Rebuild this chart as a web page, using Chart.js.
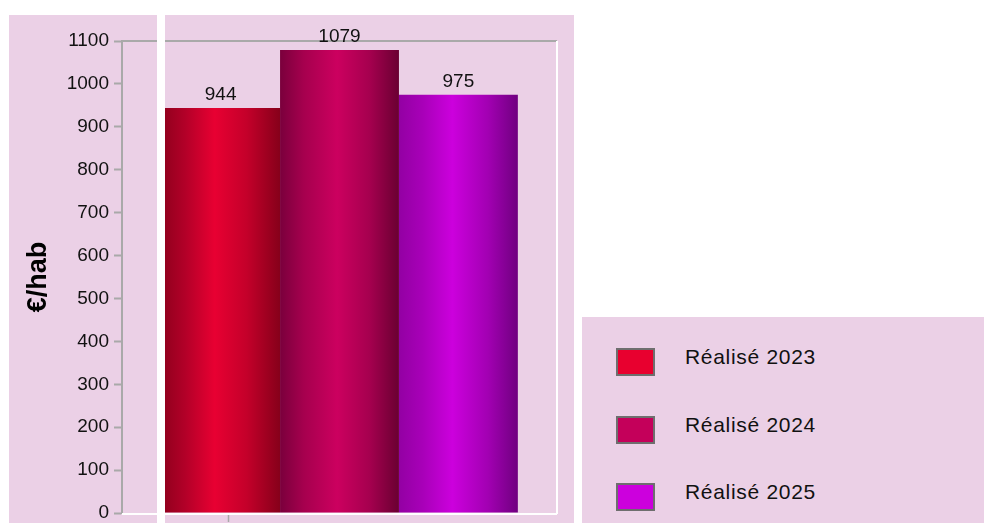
<!DOCTYPE html>
<html><head><meta charset="utf-8">
<script src="https://cdn.jsdelivr.net/npm/chart.js@4"></script>
<style>
html,body{margin:0;padding:0;background:#fff;width:984px;height:523px;overflow:hidden;font-family:"Liberation Sans",Arial,sans-serif}
.panel{position:absolute;background:#EBD0E6}
#p1{left:9px;top:15px;width:148px;height:508px}
#p2{left:165px;top:15px;width:409px;height:508px}
#gap{position:absolute;left:157px;top:0;width:8px;height:523px;background:#fff;z-index:3}
#wrap{position:absolute;left:0;top:0;width:984px;height:523px;z-index:2}
#legend{left:582px;top:317px;width:402px;height:206px;z-index:4}
.sw{position:absolute;left:34px;width:35px;height:24px;border:2px solid #6E6E6E}
.lt{position:absolute;left:103px;font-size:21px;letter-spacing:0.7px;color:#111;line-height:24px;white-space:nowrap}
</style></head>
<body>
<div class="panel" id="p1"></div>
<div class="panel" id="p2"></div>
<div id="wrap"><canvas id="c" width="984" height="523"></canvas></div>
<div id="gap"></div>
<div class="panel" id="legend"></div>
<script>
// ---- data ----
const categories = [''];
const seriesNames = ['Réalisé 2023', 'Réalisé 2024', 'Réalisé 2025'];
const values2023 = [944];
const values2024 = [1079];
const values2025 = [975];
const yMin = 0, yMax = 1100, yStep = 100;

// ---- styles ----
const legendColors = ['#E8002F', '#C4005A', '#CC00DD'];
const gradStops = [
  [[0,'#8E001C'],[0.2,'#B20028'],[0.45,'#E80032'],[0.72,'#C4002A'],[1,'#86001A']],
  [[0,'#7A003C'],[0.2,'#A6004E'],[0.48,'#CC005F'],[0.75,'#A6004F'],[1,'#6A0032']],
  [[0,'#9300A3'],[0.2,'#A800B8'],[0.45,'#CC00DD'],[0.75,'#A200B2'],[1,'#700080']]
];

// legend (HTML, built from the series arrays)
const leg = document.getElementById('legend');
const swTops = [31, 99, 166];
seriesNames.forEach((n, i) => {
  const s = document.createElement('div'); s.className = 'sw';
  s.style.top = swTops[i] + 'px'; s.style.background = legendColors[i];
  leg.appendChild(s);
  const t = document.createElement('div'); t.className = 'lt';
  t.style.top = (swTops[i] - 3) + 'px'; t.textContent = n;
  leg.appendChild(t);
});

const gradientPlugin = {
  id: 'grad',
  beforeDatasetsDraw(chart) {
    const ctx = chart.ctx;
    chart.data.datasets.forEach((ds, di) => {
      chart.getDatasetMeta(di).data.forEach(el => {
        const g = ctx.createLinearGradient(el.x - el.width / 2, 0, el.x + el.width / 2, 0);
        gradStops[di].forEach(s => g.addColorStop(s[0], s[1]));
        el.options.backgroundColor = g;
      });
    });
  }
};

const framePlugin = {
  id: 'frame',
  afterDatasetsDraw(chart) {
    const {ctx, chartArea: a} = chart;
    ctx.save();
    ctx.lineWidth = 2;
    ctx.strokeStyle = '#A9A9A9';
    ctx.beginPath(); ctx.moveTo(a.left, a.top); ctx.lineTo(a.right, a.top); ctx.stroke();
    ctx.strokeStyle = '#FFFFFF';
    ctx.beginPath(); ctx.moveTo(a.right, a.top); ctx.lineTo(a.right, a.bottom + 1); ctx.stroke();
    ctx.beginPath(); ctx.moveTo(a.left, a.bottom + 1); ctx.lineTo(a.right, a.bottom + 1); ctx.stroke();
    // small category tick
    ctx.strokeStyle = '#A9A9A9';
    const tx = Math.round(a.left + a.width * 0.244) + 0.5;
    ctx.lineWidth = 1.5;
    ctx.beginPath(); ctx.moveTo(tx, a.bottom + 2); ctx.lineTo(tx, a.bottom + 9); ctx.stroke();
    // value labels
    ctx.fillStyle = '#111';
    ctx.font = '19px "Liberation Sans", Arial, sans-serif';
    ctx.textAlign = 'center'; ctx.textBaseline = 'middle';
    chart.data.datasets.forEach((ds, di) => {
      chart.getDatasetMeta(di).data.forEach((el, i) => {
        ctx.fillText(String(ds.data[i]), el.x, el.y - 13);
      });
    });
    ctx.restore();
  }
};

new Chart(document.getElementById('c'), {
  type: 'bar',
  data: {
    labels: categories,
    datasets: [
      {label: seriesNames[0], data: values2023, backgroundColor: legendColors[0]},
      {label: seriesNames[1], data: values2024, backgroundColor: legendColors[1]},
      {label: seriesNames[2], data: values2025, backgroundColor: legendColors[2]}
    ]
  },
  options: {
    responsive: false,
    animation: false,
    events: [],
    categoryPercentage: 0.82,
    barPercentage: 1.0,
    layout: {padding: {top: 41, right: 427, left: 22, bottom: 0}},
    plugins: {legend: {display: false}, tooltip: {enabled: false}},
    scales: {
      x: {
        ticks: {display: false},
        grid: {display: false},
        border: {display: false},
        afterFit(s) { s.height = 10; }
      },
      y: {
        min: yMin, max: yMax,
        ticks: {stepSize: yStep, color: '#111', padding: 5,
                callback: v => String(v),
                font: {size: 19, family: '"Liberation Sans", Arial, sans-serif'}},
        grid: {drawOnChartArea: false, tickLength: 8, color: '#A9A9A9', tickWidth: 2},
        border: {color: '#A9A9A9', width: 2},
        title: {display: true, text: '€/hab', color: '#000',
                font: {size: 27, weight: 'bold', family: '"Liberation Sans", Arial, sans-serif'},
                padding: {top: 0, bottom: 0}},
        afterFit(s) { s.width = 100; s.paddingTop = 0; s.paddingBottom = 0; }
      }
    }
  },
  plugins: [gradientPlugin, framePlugin]
});
</script>
</body></html>
